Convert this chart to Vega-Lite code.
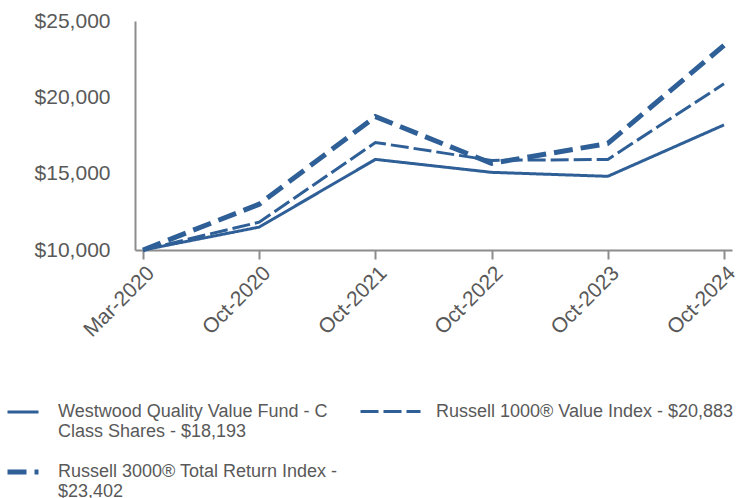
{
  "$schema": "https://vega.github.io/schema/vega-lite/v6.json",
  "width": 597,
  "height": 229,
  "autosize": "none",
  "padding": {"left": 135, "top": 21, "right": 12, "bottom": 248},
  "background": "white",
  "config": {
    "font": "Liberation Sans",
    "view": {"stroke": null},
    "axis": {"labelFont": "Liberation Sans", "labelColor": "#595959", "labelFontSize": 21, "grid": false, "title": null}
  },
  "data": {
    "values": [
      {"date": "Mar-2020", "series": "Westwood Quality Value Fund - C Class Shares - $18,193", "value": 10000},
      {"date": "Oct-2020", "series": "Westwood Quality Value Fund - C Class Shares - $18,193", "value": 11500},
      {"date": "Oct-2021", "series": "Westwood Quality Value Fund - C Class Shares - $18,193", "value": 15935},
      {"date": "Oct-2022", "series": "Westwood Quality Value Fund - C Class Shares - $18,193", "value": 15087},
      {"date": "Oct-2023", "series": "Westwood Quality Value Fund - C Class Shares - $18,193", "value": 14826},
      {"date": "Oct-2024", "series": "Westwood Quality Value Fund - C Class Shares - $18,193", "value": 18193},
      {"date": "Mar-2020", "series": "Russell 1000® Value Index - $20,883", "value": 10000},
      {"date": "Oct-2020", "series": "Russell 1000® Value Index - $20,883", "value": 11826},
      {"date": "Oct-2021", "series": "Russell 1000® Value Index - $20,883", "value": 17043},
      {"date": "Oct-2022", "series": "Russell 1000® Value Index - $20,883", "value": 15870},
      {"date": "Oct-2023", "series": "Russell 1000® Value Index - $20,883", "value": 15935},
      {"date": "Oct-2024", "series": "Russell 1000® Value Index - $20,883", "value": 20883},
      {"date": "Mar-2020", "series": "Russell 3000® Total Return Index - $23,402", "value": 10000},
      {"date": "Oct-2020", "series": "Russell 3000® Total Return Index - $23,402", "value": 13000},
      {"date": "Oct-2021", "series": "Russell 3000® Total Return Index - $23,402", "value": 18739},
      {"date": "Oct-2022", "series": "Russell 3000® Total Return Index - $23,402", "value": 15674},
      {"date": "Oct-2023", "series": "Russell 3000® Total Return Index - $23,402", "value": 16978},
      {"date": "Oct-2024", "series": "Russell 3000® Total Return Index - $23,402", "value": 23402}
    ]
  },
  "encoding": {
    "x": {
      "field": "date", "type": "ordinal", "sort": null,
      "scale": {"type": "point", "padding": 0.069},
      "axis": {"labelAngle": -45, "domainColor": "#8c8c8c", "domainWidth": 2, "tickColor": "#8c8c8c", "tickWidth": 2, "tickSize": 9, "labelPadding": 3}
    },
    "y": {
      "field": "value", "type": "quantitative",
      "scale": {"domain": [10000, 25000], "nice": false, "zero": false},
      "axis": {"values": [10000, 15000, 20000, 25000], "format": "$,.0f", "ticks": false, "labelPadding": 25, "domainColor": "#8c8c8c", "domainWidth": 2}
    }
  },
  "layer": [
    {
      "transform": [{"filter": {"field": "series", "oneOf": ["Westwood Quality Value Fund - C Class Shares - $18,193", "Russell 3000® Total Return Index - $23,402"]}}],
      "mark": {"type": "line"},
      "encoding": {
        "color": {
          "field": "series", "type": "nominal", "sort": null,
          "scale": {"domain": ["Westwood Quality Value Fund - C Class Shares - $18,193", "Russell 3000® Total Return Index - $23,402"], "range": ["#2f5f97", "#2f5f97"]},
          "legend": {
            "title": null, "orient": "none", "legendX": -130, "legendY": 374, "direction": "vertical",
            "symbolType": "stroke", "symbolSize": 961, "labelFontSize": 18, "labelColor": "#595959", "labelFont": "Liberation Sans",
            "labelBaseline": "top", "rowPadding": 13, "labelOffset": 17, "labelLimit": 400,
            "labelExpr": "datum.label == 'Westwood Quality Value Fund - C Class Shares - $18,193' ? ['Westwood Quality Value Fund - C', 'Class Shares - $18,193'] : ['Russell 3000® Total Return Index -', '$23,402']",
            "encode": {"labels": {"update": {"dy": {"value": -9}}}}
          }
        },
        "strokeDash": {
          "field": "series", "type": "nominal", "sort": null,
          "scale": {"domain": ["Westwood Quality Value Fund - C Class Shares - $18,193", "Russell 3000® Total Return Index - $23,402"], "range": [[1, 0], [19, 8]]}
        },
        "strokeWidth": {
          "field": "series", "type": "nominal", "sort": null,
          "scale": {"type": "ordinal", "domain": ["Westwood Quality Value Fund - C Class Shares - $18,193", "Russell 3000® Total Return Index - $23,402"], "range": [3, 5]}
        }
      }
    },
    {
      "transform": [{"filter": {"field": "series", "equal": "Russell 1000® Value Index - $20,883"}}],
      "mark": {"type": "line"},
      "encoding": {
        "color": {
          "field": "series", "type": "nominal",
          "scale": {"domain": ["Russell 1000® Value Index - $20,883"], "range": ["#2f5f97"]},
          "legend": {
            "title": null, "orient": "none", "legendX": 224, "legendY": 359, "direction": "vertical",
            "symbolType": "stroke", "symbolSize": 3600, "labelFontSize": 18, "labelColor": "#595959", "labelFont": "Liberation Sans",
            "labelBaseline": "top", "labelOffset": 14, "labelLimit": 400,
            "encode": {"labels": {"update": {"dy": {"value": -9}}}}
          }
        },
        "strokeDash": {
          "field": "series", "type": "nominal",
          "scale": {"domain": ["Russell 1000® Value Index - $20,883"], "range": [[18, 5]]}
        },
        "strokeWidth": {
          "field": "series", "type": "nominal",
          "scale": {"type": "ordinal", "domain": ["Russell 1000® Value Index - $20,883"], "range": [3]}
        }
      }
    }
  ],
  "resolve": {"scale": {"color": "independent", "strokeDash": "independent", "strokeWidth": "independent"}}
}
